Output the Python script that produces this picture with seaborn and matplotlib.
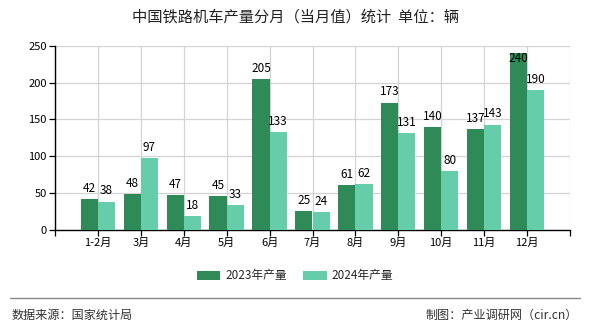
import matplotlib
matplotlib.use("Agg")
import matplotlib.pyplot as plt
import seaborn as sns
import pandas as pd
from matplotlib.lines import Line2D
from matplotlib.patches import Patch

months = ["1-2月", "3月", "4月", "5月", "6月", "7月", "8月", "9月", "10月", "11月", "12月"]
y2023 = [42, 48, 47, 45, 205, 25, 61, 173, 140, 137, 240]
y2024 = [38, 97, 18, 33, 133, 24, 62, 131, 80, 143, 190]
series_names = ["2023年产量", "2024年产量"]
colors = ["#2e8b57", "#66cdaa"]
yticks = [0, 50, 100, 150, 200, 250]

df = pd.DataFrame({
    "month": months * 2,
    "value": y2023 + y2024,
    "series": [series_names[0]] * len(months) + [series_names[1]] * len(months),
})

sns.set_theme(style="white")
plt.rcParams['font.family'] = ['Noto Sans CJK SC', 'DejaVu Sans']

fig = plt.figure(figsize=(5.9, 3.3), dpi=100)
ax = fig.add_axes([55/590, 1 - 229.5/330, (570 - 55)/590, (229.5 - 46)/330])

sns.barplot(data=df, x="month", y="value", hue="series", order=months,
            hue_order=series_names, palette=colors, width=0.8, saturation=1,
            ax=ax, legend=False, zorder=3, linewidth=0, edgecolor="none")

ax.set_xlim(-1, 11)
ax.set_ylim(0, 250)
ax.set_yticks(yticks)
ax.set_yticklabels([str(t) for t in yticks], fontsize=8)
ax.set_xticks(range(-1, 12))
ax.set_xticklabels([""] + months + [""], fontsize=8)
ax.set_xlabel("")
ax.set_ylabel("")
ax.grid(True, color="#d3d3d3", linewidth=0.9, zorder=0)
ax.set_axisbelow(True)
for s in ["top", "right"]:
    ax.spines[s].set_visible(False)
for s in ["left", "bottom"]:
    ax.spines[s].set_color("black")
    ax.spines[s].set_linewidth(1.0)
ax.tick_params(axis="both", direction="out", length=4, width=0.9, color="black",
               pad=2, labelcolor="black", bottom=True, left=True)

for cont in ax.containers:
    for bar in cont:
        h = bar.get_height()
        x = bar.get_x() + bar.get_width() / 2
        ypos = min(h, 218)
        ax.annotate(f"{int(round(h))}", (x, ypos), xytext=(0, 3),
                    textcoords="offset points", ha="center", va="bottom",
                    fontsize=8.5, color="black", zorder=5)

fig.text(0.5, 1 - 17/330, "中国铁路机车产量分月（当月值）统计  单位：辆",
         ha="center", va="center", fontsize=11, color="#222222")

handles = [Patch(facecolor=c, edgecolor="none") for c in colors]
fig.legend(handles, series_names, loc="center", bbox_to_anchor=(0.5, 1 - 276/330),
           ncol=2, frameon=False, fontsize=8.5, handlelength=2.0, handleheight=0.9,
           columnspacing=1.4, handletextpad=0.4)

fig.add_artist(Line2D([10/590, 580/590], [1 - 298/330, 1 - 298/330],
                      color="#888888", linewidth=1.0))
fig.text(12/590, 1 - 315/330, "数据来源：国家统计局", ha="left", va="center",
         fontsize=8.7, color="#333333")
fig.text(578/590, 1 - 315/330, "制图：产业调研网（cir.cn）", ha="right", va="center",
         fontsize=8.7, color="#333333")

fig.savefig("out.png", dpi=100)
